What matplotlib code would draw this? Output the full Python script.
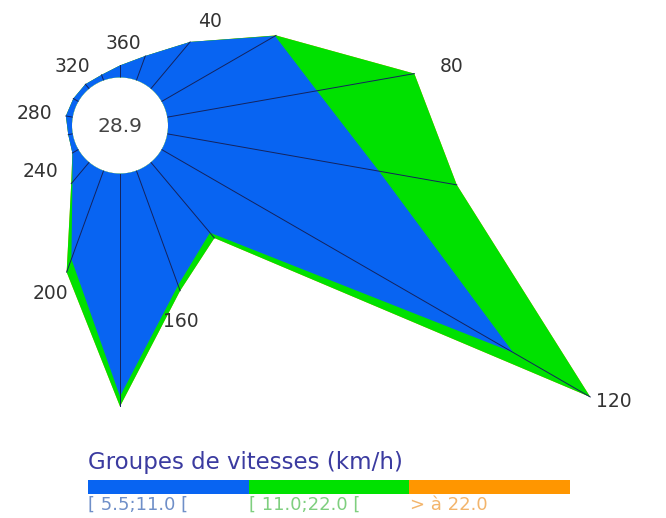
import numpy as np
import matplotlib
matplotlib.use("Agg")
import matplotlib.pyplot as plt

# ---- data (percent of observations) ----
directions = [20, 40, 60, 80, 100, 120, 140, 160, 180, 200, 220, 240, 260, 280, 300, 320, 340, 360]
class1 = [0.97, 2.28, 4.89, 5.67, 8.02, 15.15, 3.43, 4.55, 8.32, 3.51, 0.97, 0.26, 0.17, 0.26, 0.22, 0.22, 0.22, 0.45]  # [5.5;11.0[
class2 = [0.0, 0.0, 0.04, 3.69, 2.95, 3.32, 0.26, 0.22, 0.37, 0.52, 0.07, 0.0, 0.0, 0.0, 0.0, 0.0, 0.0, 0.0]          # [11.0;22.0[
class3 = [0.0] * 18                                                                                                     # > 22.0
calm = 28.9
label_dirs = [40, 80, 120, 160, 200, 240, 280, 320, 360]
class_labels = ["[ 5.5;11.0 [", "[ 11.0;22.0 [", "> à 22.0"]
class_colors = ["#0864f2", "#00e100", "#ff9600"]
label_colors = ["#6f8fc8", "#7fcf7f", "#f3b56c"]
legend_title = "Groupes de vitesses (km/h)"

# ---- layout ----
W, H = 666, 518
cx, cy = 120, 125.5
R_AX = 600.0
PX_PER_PCT = 26.8
R0_PX = 48.0
# direction-label offsets from the outer vertex (pixels, x right / y up)
label_offsets = [(20, 20), (37, 7), (24, -5), (1, -31), (-16, -21), (-32, -19), (-31, 2), (-13, 18), (3, 22)]

fig = plt.figure(figsize=(W / 100, H / 100), dpi=100)
ax = fig.add_axes([(cx - R_AX) / W, (H - cy - R_AX) / H, 2 * R_AX / W, 2 * R_AX / H],
                  projection="polar")
ax.set_theta_zero_location("N")
ax.set_theta_direction(-1)
r0 = R0_PX / PX_PER_PCT
ax.set_rorigin(-r0)
ax.set_ylim(0, R_AX / PX_PER_PCT - r0)
ax.axis("off")

th = np.deg2rad(directions)
c1 = np.array(class1)
c2 = c1 + np.array(class2)
c3 = c2 + np.array(class3)

ax.fill(th, c3, color=class_colors[2], lw=0, zorder=1)
ax.fill(th, c2, color=class_colors[1], lw=0, zorder=2)
ax.fill(th, c1, color=class_colors[0], lw=0, zorder=3)

circ_t = np.linspace(0, 2 * np.pi, 300)
ax.fill(circ_t, np.zeros_like(circ_t), color="white", lw=0, zorder=4)

for t, r in zip(th, c3):
    ax.plot([t, t], [0, r], color="#14235e", lw=0.7, zorder=5)

ax.annotate(f"{calm:.1f}", xy=(0, -r0), xytext=(0, -1), textcoords="offset pixels",
            ha="center", va="center", fontsize=14.5, color="#444444", zorder=6)

for d, (ox, oy) in zip(label_dirs, label_offsets):
    i = directions.index(d)
    a = np.deg2rad(d)
    ax.annotate(str(d), xy=(a, c3[i]), xytext=(ox, oy),
                textcoords="offset pixels", ha="center", va="center",
                fontsize=13.5, color="#333333", zorder=6, annotation_clip=False)

# ---- legend ----
fig.text(88 / W, 1 - 462 / H, legend_title, fontsize=16.5, color="#3b3ba0", ha="left", va="center")
lax = fig.add_axes([88 / W, 1 - 494 / H, (570 - 88) / W, 14 / H])
lax.barh([0] * 3, [1, 1, 1], left=[0, 1, 2], height=1, color=class_colors)
lax.set_xlim(0, 3)
lax.set_ylim(-0.5, 0.5)
lax.axis("off")
for k, (lab, col) in enumerate(zip(class_labels, label_colors)):
    fig.text((88 + k * 161) / W, 1 - 505 / H, lab, fontsize=13, color=col, ha="left", va="center")

fig.savefig("out.png", dpi=100)
